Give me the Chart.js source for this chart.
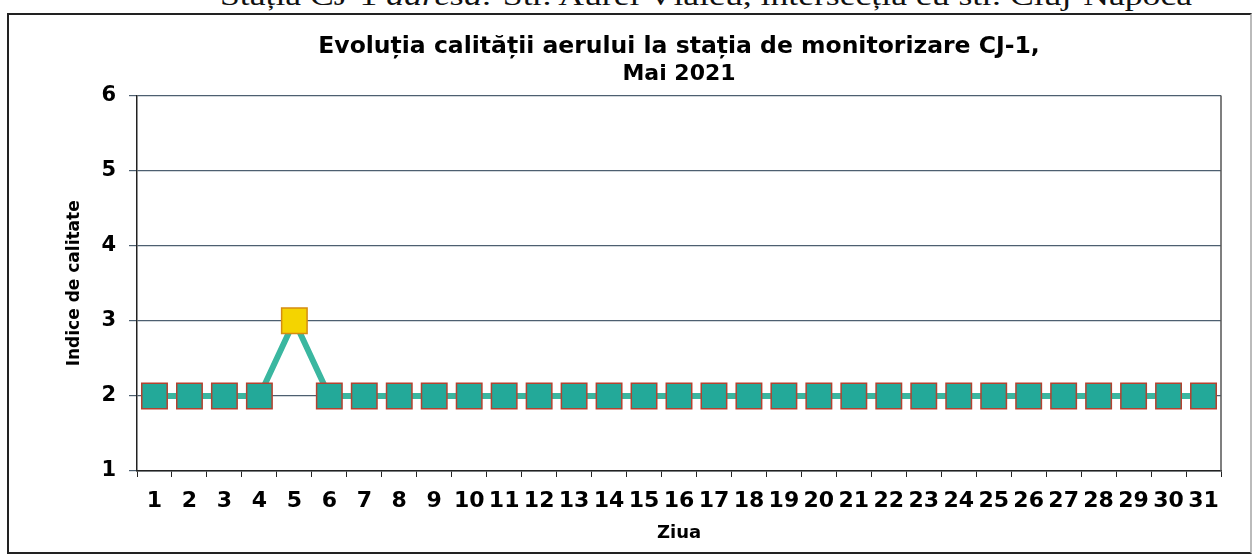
<!DOCTYPE html>
<html>
<head>
<meta charset="utf-8">
<script src="https://cdn.jsdelivr.net/npm/chart.js@4.4.1/dist/chart.umd.min.js"></script>
<style>
    html, body { margin: 0; padding: 0; background: #fff; overflow: hidden; }
    body { width: 1257px; height: 555px; position: relative; }
    #header {
        position: absolute; left: 220px; top: -19px;
        font-family: "Liberation Serif", "DejaVu Serif", serif; font-size: 27px; color: #111;
        white-space: nowrap; transform: scaleX(1.32); transform-origin: left top;
    }
    #frame {
        position: absolute; left: 7px; top: 13px; width: 1245px; height: 541px;
        border: 2px solid #222; border-right-color: #bbb; box-sizing: border-box;
    }
    #frame canvas { display: block; }
</style>
</head>
<body>
<div id="header">Stația CJ-1 <i>adresa:</i> Str. Aurel Vlaicu, intersecția cu str. Cluj-Napoca</div>
<div id="frame"><canvas id="myChart" width="1241" height="537"></canvas></div>
<script>
const days = ['1', '2', '3', '4', '5', '6', '7', '8', '9', '10', '11', '12', '13', '14', '15', '16',
    '17', '18', '19', '20', '21', '22', '23', '24', '25', '26', '27', '28', '29', '30', '31'];
const qualityIndex = [2, 2, 2, 2, 3, 2, 2, 2, 2, 2, 2, 2, 2, 2, 2, 2,
    2, 2, 2, 2, 2, 2, 2, 2, 2, 2, 2, 2, 2, 2, 2];
const yTicks = [1, 2, 3, 4, 5, 6];
const titleLine = 'Evoluția calității aerului la stația de monitorizare CJ-1,';
const titleMonth = 'Mai 2021';

const FONT = '"DejaVu Sans", Verdana, sans-serif';

const plotBorder = {
    id: 'plotBorder',
    afterDraw(chart) {
        const { ctx, chartArea: a } = chart;
        ctx.save();
        ctx.strokeStyle = '#555';
        ctx.lineWidth = 1.5;
        ctx.beginPath();
        ctx.moveTo(a.right, a.top);
        ctx.lineTo(a.right, a.bottom);
        ctx.stroke();
        ctx.restore();
    }
};

const ctx = document.getElementById('myChart').getContext('2d');
new Chart(ctx, {
    type: 'line',
    data: {
        labels: days,
        datasets: [{
            data: qualityIndex,
            borderColor: '#3ab7a0',
            borderWidth: 6,
            tension: 0,
            pointStyle: 'rect',
            pointRadius: 18,
            pointHoverRadius: 18,
            pointBorderWidth: 1.5,
            pointBackgroundColor: c => c.raw >= 3 ? '#f4d400' : '#23a999',
            pointBorderColor: c => c.raw >= 3 ? '#d58c10' : '#b5412f',
        }]
    },
    options: {
        responsive: false,
        animation: false,
        layout: { padding: { left: 0, right: 29, top: 0, bottom: 0 } },
        plugins: {
            legend: { display: false },
            tooltip: { enabled: false },
            title: {
                display: true,
                fullSize: false,
                text: titleLine,
                color: '#000',
                font: { family: FONT, size: 23.5, weight: 'bold', lineHeight: 1.2 },
                padding: { top: 18, bottom: 0 }
            },
            subtitle: {
                display: true,
                fullSize: false,
                text: titleMonth,
                color: '#000',
                font: { family: FONT, size: 22, weight: 'bold', lineHeight: 1.2 },
                padding: { top: 0, bottom: 8 }
            }
        },
        scales: {
            x: {
                offset: true,
                afterFit: scale => { scale.height = 81; },
                border: { color: '#222', width: 1.5 },
                grid: { display: true, drawOnChartArea: false, offset: true, tickLength: 6, tickColor: '#222' },
                ticks: {
                    autoSkip: false, maxRotation: 0, padding: 11, color: '#000',
                    font: { family: FONT, size: 22, weight: 'bold' }
                },
                title: {
                    display: true, text: 'Ziua', color: '#000', padding: { top: 4, bottom: 8 },
                    font: { family: FONT, size: 18, weight: 'bold' }
                }
            },
            y: {
                min: 1,
                max: 6,
                afterBuildTicks: scale => { scale.ticks = yTicks.map(v => ({ value: v })); },
                afterFit: scale => { scale.width = 128; },
                border: { color: '#222', width: 1.5 },
                grid: { color: '#4d5f70', lineWidth: 1.2, tickLength: 8, tickColor: '#4d5f70' },
                ticks: {
                    padding: 13, color: '#000',
                    font: { family: FONT, size: 21, weight: 'bold' }
                },
                title: {
                    display: true, text: 'Indice de calitate', color: '#000', padding: { top: 55, bottom: 0 },
                    font: { family: FONT, size: 17, weight: 'bold' }
                }
            }
        }
    },
    plugins: [plotBorder]
});
</script>
</body>
</html>
